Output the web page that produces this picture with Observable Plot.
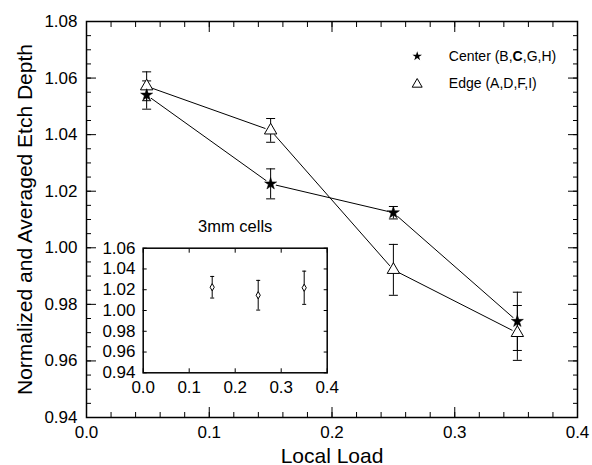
<!DOCTYPE html>
<html>
<head>
<meta charset="utf-8">
<script src="https://cdn.jsdelivr.net/npm/d3@7"></script>
<script src="https://cdn.jsdelivr.net/npm/@observablehq/plot@0.6"></script>
<style>
  body { margin: 0; background: white; }
  #wrap { position: relative; width: 592px; height: 465px; }
  #wrap svg { position: absolute; }
</style>
</head>
<body>
<div id="wrap"></div>
<script>
// ---- data ----
const loads = [0.049, 0.15, 0.25, 0.351];
const centerDepth = [1.054, 1.0226, 1.0124, 0.974];
const centerErr = [0.0050, 0.0053, 0.0022, 0.0103];
const edgeDepth = [1.0571, 1.0415, 0.9922, 0.9699];
const edgeErr = [0.0051, 0.0042, 0.0090, 0.0097];

const cellLoads = [0.15, 0.25, 0.35];
const cellDepth = [1.0224, 1.0147, 1.0219];
const cellErr = [0.0104, 0.0143, 0.0160];

const seriesNames = ["Center (B,C,G,H)", "Edge (A,D,F,I)"];
const insetTitle = "3mm cells";
const xLabel = "Local Load";
const yLabel = "Normalized and Averaged Etch Depth";

const xMajor = [0.0, 0.1, 0.2, 0.3, 0.4];
const yMajor = [0.94, 0.96, 0.98, 1.00, 1.02, 1.04, 1.06, 1.08];
const xMinor = d3.range(0, 21).map(i => +(i * 0.02).toFixed(3));
const yMinor = d3.range(0, 29).map(i => +(0.94 + i * 0.005).toFixed(4));
const insetX = [0.0, 0.1, 0.2, 0.3, 0.4];
const insetY = [0.94, 0.96, 0.98, 1.00, 1.02, 1.04, 1.06];

const center = loads.map((x, i) => ({x, y: centerDepth[i], e: centerErr[i]}));
const edge = loads.map((x, i) => ({x, y: edgeDepth[i], e: edgeErr[i]}));
const cells = cellLoads.map((x, i) => ({x, y: cellDepth[i], e: cellErr[i]}));
const all = center.concat(edge);

const cap = {draw(ctx, size) { const w = Math.sqrt(size / Math.PI); ctx.moveTo(-w, 0); ctx.lineTo(w, 0); }};
const blank = () => "";
const font = "'Liberation Sans', Arial, Helvetica, sans-serif";

const main = Plot.plot({
  width: 592, height: 465,
  marginLeft: 86, marginRight: 15, marginTop: 21, marginBottom: 48,
  style: {fontFamily: font, fontSize: "17px", color: "black", background: "white", overflow: "visible"},
  x: {domain: [0, 0.4]},
  y: {domain: [0.94, 1.08]},
  marks: [
    // minor ticks (inward)
    Plot.axisX(xMinor, {anchor: "bottom", tickSize: -5, tickFormat: blank, label: null}),
    Plot.axisX(xMinor, {anchor: "top", tickSize: -5, tickFormat: blank, label: null}),
    Plot.axisY(yMinor, {anchor: "left", tickSize: -5, tickFormat: blank, label: null}),
    Plot.axisY(yMinor, {anchor: "right", tickSize: -5, tickFormat: blank, label: null}),
    // major ticks
    Plot.axisX(xMajor, {anchor: "bottom", tickSize: -10, tickPadding: 18, tickFormat: d3.format(".1f"), label: null}),
    Plot.axisX(xMajor, {anchor: "top", tickSize: -10, tickFormat: blank, label: null}),
    Plot.axisY(yMajor, {anchor: "left", tickSize: -10, tickPadding: 19, tickFormat: d3.format(".2f"), label: null}),
    Plot.axisY(yMajor, {anchor: "right", tickSize: -10, tickFormat: blank, label: null}),
    Plot.frame({stroke: "black", strokeWidth: 1.5}),
    // series lines
    Plot.line(center, {x: "x", y: "y", stroke: "black", strokeWidth: 1}),
    Plot.line(edge, {x: "x", y: "y", stroke: "black", strokeWidth: 1}),
    // white gaps around markers
    Plot.dot(all, {x: "x", y: "y", r: 5.5, fill: "white", stroke: null}),
    // error bars
    Plot.ruleX(all, {x: "x", y1: d => d.y - d.e, y2: d => d.y + d.e, stroke: "black", strokeWidth: 1}),
    Plot.dot(all, {x: "x", y: d => d.y - d.e, symbol: cap, r: 4.5, stroke: "black", strokeWidth: 1}),
    Plot.dot(all, {x: "x", y: d => d.y + d.e, symbol: cap, r: 4.5, stroke: "black", strokeWidth: 1}),
    // markers
    Plot.dot(edge, {x: "x", y: "y", symbol: "triangle", r: 4.6, fill: "white", stroke: "black", strokeWidth: 1}),
    Plot.dot(center, {x: "x", y: "y", symbol: "star", r: 3.8, fill: "black", stroke: "black", strokeWidth: 0.5}),
    // legend
    Plot.dot([seriesNames[0]], {frameAnchor: "top-left", dx: 330.7, dy: 34.7, symbol: "star", r: 3.0, fill: "black"}),
    Plot.dot([seriesNames[1]], {frameAnchor: "top-left", dx: 330.7, dy: 62.8, symbol: "triangle", r: 3.7, fill: "white", stroke: "black", strokeWidth: 1}),
    Plot.text([seriesNames[0]], {frameAnchor: "top-left", dx: 362.3, dy: 35, text: d => d, textAnchor: "start", lineAnchor: "middle", fontSize: 14}),
    Plot.text([seriesNames[1]], {frameAnchor: "top-left", dx: 362.3, dy: 62.5, text: d => d, textAnchor: "start", lineAnchor: "middle", fontSize: 14}),
    // axis titles
    Plot.text([xLabel], {frameAnchor: "bottom", dy: 45, text: d => d, textAnchor: "middle", lineAnchor: "bottom", fontSize: 21}),
    Plot.text([yLabel], {frameAnchor: "left", dx: -55, text: d => d, rotate: -90, textAnchor: "middle", lineAnchor: "bottom", fontSize: 21})
  ]
});
main.style.left = "0px"; main.style.top = "0px";

const inset = Plot.plot({
  width: 250, height: 180,
  marginLeft: 44.7, marginRight: 21.3, marginTop: 32.7, marginBottom: 22.7,
  style: {fontFamily: font, fontSize: "17px", color: "black", background: "transparent", overflow: "visible"},
  x: {domain: [0, 0.4]},
  y: {domain: [0.94, 1.06]},
  marks: [
    Plot.axisX(insetX, {anchor: "bottom", tickSize: -4, tickPadding: 11.7, tickFormat: d3.format(".1f"), label: null}),
    Plot.axisX(insetX, {anchor: "top", tickSize: -4, tickFormat: blank, label: null}),
    Plot.axisY(insetY, {anchor: "left", tickSize: -4, tickPadding: 11.7, tickFormat: d3.format(".2f"), label: null}),
    Plot.axisY(insetY, {anchor: "right", tickSize: -4, tickFormat: blank, label: null}),
    Plot.frame({stroke: "black", strokeWidth: 1.5}),
    Plot.ruleX(cells, {x: "x", y1: d => d.y - d.e, y2: d => d.y + d.e, stroke: "black", strokeWidth: 1}),
    Plot.dot(cells, {x: "x", y: d => d.y - d.e, symbol: cap, r: 2, stroke: "black", strokeWidth: 1}),
    Plot.dot(cells, {x: "x", y: d => d.y + d.e, symbol: cap, r: 2, stroke: "black", strokeWidth: 1}),
    Plot.dot(cells, {x: "x", y: "y", symbol: "diamond", r: 2.2, fill: "white", stroke: "black", strokeWidth: 1}),
    Plot.text([insetTitle], {frameAnchor: "top", dy: -21.7, text: d => d, lineAnchor: "middle", fontSize: 16.5})
  ]
});
inset.style.left = "98px"; inset.style.top = "215px";

const wrap = document.getElementById("wrap");
wrap.appendChild(main);
wrap.appendChild(inset);

// bold "C" in the Center legend entry, as in the reference
d3.select(main).selectAll("text").filter(function() { return this.textContent === seriesNames[0]; })
  .each(function() {
    const t = d3.select(this);
    t.text(null);
    t.append("tspan").text("Center (B,");
    t.append("tspan").attr("font-weight", "bold").text("C");
    t.append("tspan").text(",G,H)");
  });
</script>
</body>
</html>
